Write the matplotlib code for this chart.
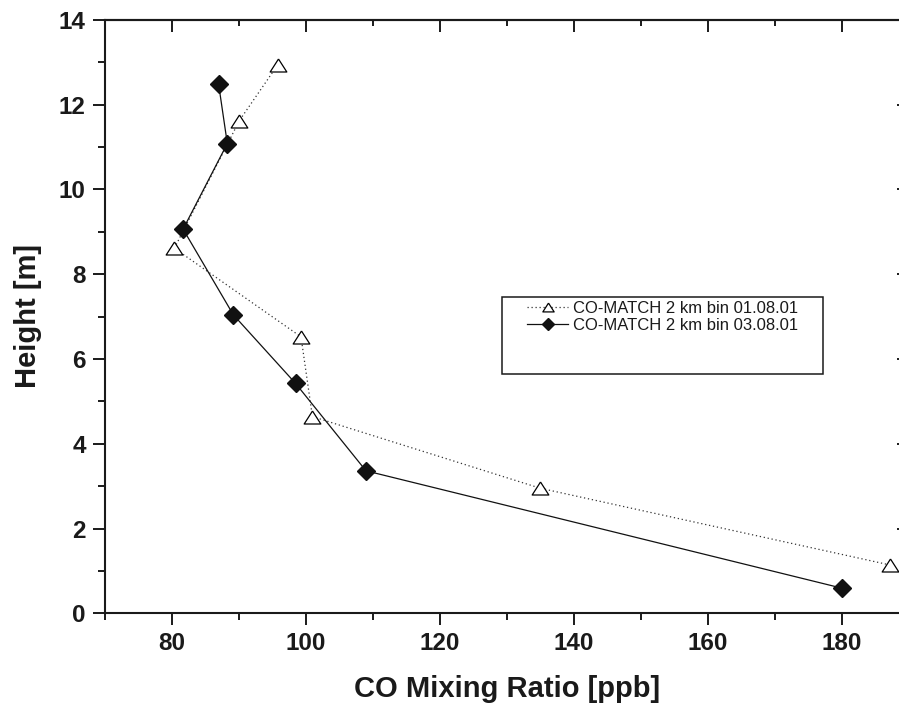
import matplotlib
matplotlib.use('Agg')
import matplotlib.pyplot as plt
from matplotlib.ticker import MultipleLocator, NullLocator
from matplotlib.patches import Rectangle

# ---- data ----
co_0108 = [187.2, 135.0, 101.0, 99.3, 80.4, 90.1, 95.8]
h_0108 = [1.14, 2.95, 4.64, 6.52, 8.61, 11.62, 12.93]
co_0308 = [180.1, 109.0, 98.5, 89.2, 81.7, 88.3, 87.0]
h_0308 = [0.59, 3.36, 5.42, 7.04, 9.06, 11.08, 12.48]
series_labels = ['CO-MATCH 2 km bin 01.08.01', 'CO-MATCH 2 km bin 03.08.01']
x_label = 'CO Mixing Ratio [ppb]'
y_label = 'Height [m]'
x_ticks = [80, 100, 120, 140, 160, 180]
y_ticks = [0, 2, 4, 6, 8, 10, 12, 14]

plt.rcParams['font.family'] = ['Liberation Sans', 'DejaVu Sans']

W, H = 899, 709
fig = plt.figure(figsize=(W / 100, H / 100), dpi=100)
ax = fig.add_axes([104.7 / W, (H - 613.3) / H, 804 / W, (613.3 - 19.7) / H])

tri = [(0, 0.78), (-1, -0.78), (1, -0.78), (0, 0.78)]
l1, = ax.plot(co_0108, h_0108, linestyle=(0, (1, 2.2)), color='#333333', lw=0.9,
              marker=tri, ms=12, mfc='white', mec='black', mew=0.9,
              label=series_labels[0])
l2, = ax.plot(co_0308, h_0308, linestyle='-', color='#111111', lw=0.9,
              marker='D', ms=9.4, mfc='#111111', mec='#111111',
              label=series_labels[1])

ax.set_xlim(70, 190)
ax.set_ylim(0, 14)
ax.set_xticks(x_ticks)
ax.set_yticks(y_ticks)
ax.xaxis.set_minor_locator(MultipleLocator(10))
ax.yaxis.set_minor_locator(MultipleLocator(1))

for sp in ax.spines.values():
    sp.set_linewidth(1.5)
    sp.set_color('#1a1a1a')

ax.tick_params(which='major', direction='out', length=8.6, width=1.4,
               color='#1a1a1a', labelsize=17.5, pad=5)
ax.tick_params(which='minor', direction='out', length=5, width=1.4, color='#1a1a1a')
ax.tick_params(top=False, right=False, which='both')
for lab in ax.get_xticklabels() + ax.get_yticklabels():
    lab.set_fontweight('bold')
    lab.set_color('#1a1a1a')

# inward ticks on top and right sides
secx = ax.secondary_xaxis('top')
secx.set_xticks(x_ticks)
secx.xaxis.set_minor_locator(MultipleLocator(10))
secx.tick_params(which='major', direction='in', length=8.6, width=1.4, color='#1a1a1a', labeltop=False)
secx.tick_params(which='minor', direction='in', length=4.5, width=1.4, color='#1a1a1a')
secx.spines['top'].set_linewidth(1.5)
secy = ax.secondary_yaxis('right')
secy.set_yticks(y_ticks)
secy.yaxis.set_minor_locator(NullLocator())
secy.tick_params(which='major', direction='in', length=8.6, width=1.4, color='#1a1a1a', labelright=False)

ax.set_xlabel(x_label, fontsize=21, fontweight='bold', color='#1a1a1a', labelpad=14)
ax.set_ylabel(y_label, fontsize=21, fontweight='bold', color='#1a1a1a', labelpad=12)

# legend
leg = fig.legend(handles=[l1, l2], loc='upper left',
                 bbox_to_anchor=(526.7 / W, (H - 301) / H),
                 frameon=False, fontsize=12, handlelength=2.5,
                 handletextpad=0.3, labelspacing=0.12, borderpad=0,
                 borderaxespad=0, markerscale=0.68)
for t in leg.get_texts():
    t.set_color('#1a1a1a')
fig.patches.append(Rectangle((502.3 / W, (H - 374.3) / H), 321 / W, 77 / H,
                             transform=fig.transFigure, fill=False,
                             edgecolor='#1a1a1a', lw=1.1))

fig.savefig('out.png', dpi=100)
